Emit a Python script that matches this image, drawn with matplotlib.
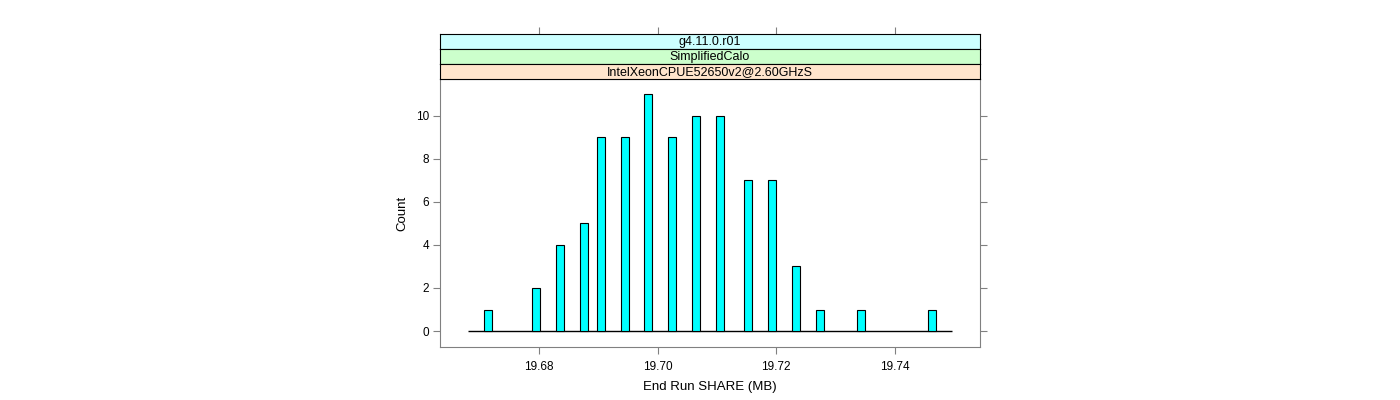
import numpy as np
import matplotlib
matplotlib.use('Agg')
import matplotlib.pyplot as plt

plt.rcParams['font.family'] = ['Liberation Sans', 'DejaVu Sans']

# Waardes uit die histogram
share_mb = [19.6714, 19.6795, 19.6835, 19.6876, 19.6905, 19.6945, 19.6984, 19.7024,
            19.7065, 19.7105, 19.7153, 19.7193, 19.7234, 19.7274, 19.7343, 19.7463]
tellings = [1, 2, 4, 5, 9, 9, 11, 9, 10, 10, 7, 7, 3, 1, 1, 1]
strook_tekste = ['g4.11.0.r01', 'SimplifiedCalo', 'IntelXeonCPUE52650v2@2.60GHzS']
strook_kleure = ['#ccffff', '#ccffcc', '#ffe5cc']
x_ticks = [19.68, 19.70, 19.72, 19.74]
y_ticks = [0, 2, 4, 6, 8, 10]

raam = '#808080'
fig = plt.figure(figsize=(14, 4), dpi=100)

# Hoofpaneel
ax = fig.add_axes([440/1400, 1-347/400, 540/1400, 268/400])
ax.bar(share_mb, tellings, width=0.0013, color='#00ffff', edgecolor='black', linewidth=0.8, zorder=3)
rand = 0.0034
ax.hlines(0, min(share_mb) - rand, max(share_mb) + rand, color='black', linewidth=1, zorder=2)
ax.set_xlim(19.6633, 19.7544)
ax.set_ylim(-0.744, 11.72)
ax.set_xticks(x_ticks)
ax.set_xticklabels(['%.2f' % t for t in x_ticks])
ax.set_yticks(y_ticks)
ax.tick_params(axis='both', direction='out', length=5, color=raam, labelsize=8.5, pad=3,
               right=True, top=False)
ax.tick_params(axis='x', pad=5)
for s in ax.spines.values():
    s.set_color(raam)
ax.set_xlabel('End Run SHARE (MB)', fontsize=9.5, labelpad=6)
ax.set_ylabel('Count', fontsize=9.5, labelpad=5)

# Strokies bo die paneel
h = 15/400
for i, (teks, kleur) in enumerate(zip(strook_tekste, strook_kleure)):
    bo = 34 + i*15
    sax = fig.add_axes([440/1400, 1-(bo+15)/400, 540/1400, h])
    sax.set_facecolor(kleur)
    sax.set_xlim(ax.get_xlim())
    sax.set_yticks([])
    sax.text(0.5, 0.45, teks, ha='center', va='center', fontsize=9, transform=sax.transAxes)
    for s in sax.spines.values():
        s.set_color('black')
        s.set_linewidth(0.8)
    if i == 0:
        sax.set_xticks(x_ticks)
        sax.tick_params(axis='x', top=True, bottom=False, labeltop=False, labelbottom=False,
                        direction='out', length=5, color=raam)
    else:
        sax.set_xticks([])

plt.savefig('out.png')
